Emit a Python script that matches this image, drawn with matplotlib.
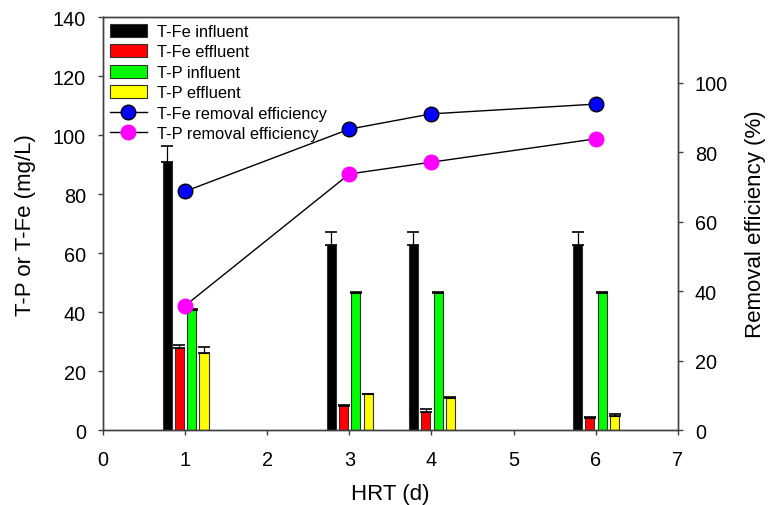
import numpy as np
import matplotlib
matplotlib.use("Agg")
import matplotlib.pyplot as plt
from matplotlib.lines import Line2D
from matplotlib.patches import Patch

plt.rcParams['font.family'] = ['Liberation Sans', 'DejaVu Sans']

# ---- data -------------------------------------------------------------------
hrt = np.array([1, 3, 4, 6])
fe_in = [91.0, 62.8, 62.8, 62.8]
fe_in_err = [5.3, 4.5, 4.5, 4.5]
fe_out = [27.8, 8.3, 6.3, 4.2]
fe_out_err = [1.0, 0.3, 0.8, 0.2]
p_in = [40.8, 46.5, 46.5, 46.4]
p_in_err = [0.3, 0.3, 0.3, 0.3]
p_out = [26.3, 12.2, 11.0, 4.7]
p_out_err = [2.0, 0.2, 0.2, 0.9]
fe_eff = [68.7, 86.6, 91.0, 93.8]
p_eff = [35.8, 73.7, 77.1, 83.8]

series = [
    ("T-Fe influent", fe_in, fe_in_err, "black"),
    ("T-Fe effluent", fe_out, fe_out_err, "#ff0000"),
    ("T-P influent", p_in, p_in_err, "#00ff00"),
    ("T-P effluent", p_out, p_out_err, "#ffff00"),
]
offsets = [-0.22, -0.07, 0.08, 0.23]
width = 0.11
axcol = "#404040"

fig = plt.figure(figsize=(7.72, 5.06), dpi=100)
ax = fig.add_axes([0.1334, 0.148, 0.7446, 0.816])
ax2 = ax.twinx()

handles = []
for (name, vals, err, col), off in zip(series, offsets):
    ax.bar(hrt + off, vals, width, color=col, edgecolor="#303030", linewidth=0.8,
           zorder=2)
    ax.errorbar(hrt + off, vals, yerr=[np.zeros(len(err)), err], fmt="none",
                ecolor="black", elinewidth=0.9, capsize=4.5, capthick=1.2, zorder=3)
    handles.append(Patch(facecolor=col, edgecolor="#303030", linewidth=0.8, label=name))

ax2.plot(hrt, fe_eff, color="black", lw=1.0, marker="o", ms=10.5,
         mfc="#0000ff", mec="black", mew=1.0, zorder=4)
ax2.plot(hrt, p_eff, color="black", lw=1.0, marker="o", ms=10.5,
         mfc="#ff00ff", mec="#ff00ff", mew=1.0, zorder=4)
handles.append(Line2D([], [], color="black", lw=1.0, marker="o", ms=10.5,
                      mfc="#0000ff", mec="black", label="T-Fe removal efficiency"))
handles.append(Line2D([], [], color="black", lw=1.0, marker="o", ms=10.5,
                      mfc="#ff00ff", mec="#ff00ff", label="T-P removal efficiency"))

ax.set_xlim(0, 7)
ax.set_ylim(0, 140)
ax.set_xticks(range(8))
ax.set_yticks(range(0, 141, 20))
ax2.set_ylim(0, 118.8)
ax2.set_yticks(range(0, 101, 20))

for a in (ax, ax2):
    for s in a.spines.values():
        s.set_color(axcol)
        s.set_linewidth(1.0)
    a.tick_params(direction="out", length=3.8, width=1.0, color=axcol,
                  labelsize=14.3, pad=8.5)
ax.tick_params(axis="x", pad=10.5)

ax.set_xlabel("HRT (d)", fontsize=16, labelpad=10)
ax.set_ylabel("T-P or T-Fe (mg/L)", fontsize=16, labelpad=12)
ax2.set_ylabel("Removal efficiency (%)", fontsize=16, labelpad=12)

leg = ax.legend(handles=handles, loc="upper left", frameon=False, fontsize=11.8,
                handlelength=2.3, handleheight=0.85, borderaxespad=0.0,
                labelspacing=0.32, handletextpad=0.6)

fig.savefig("out.png", dpi=100)
